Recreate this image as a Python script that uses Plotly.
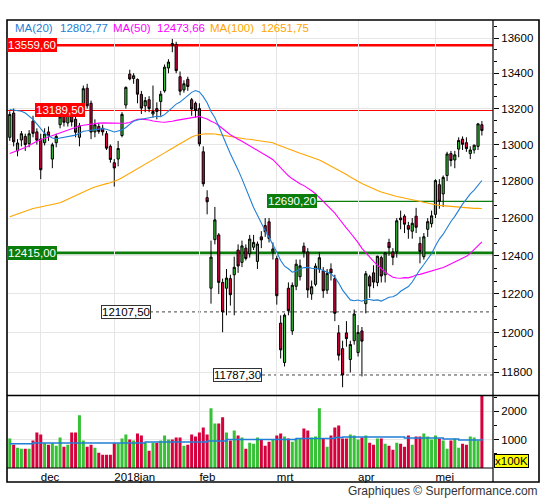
import math
import plotly.graph_objects as go

# ---------------- data ----------------
dates = [
    "2017-11-21", "2017-11-22", "2017-11-23", "2017-11-24", "2017-11-27", "2017-11-28", "2017-11-29", "2017-11-30",
    "2017-12-01", "2017-12-04", "2017-12-05", "2017-12-06", "2017-12-07", "2017-12-08", "2017-12-11", "2017-12-12",
    "2017-12-13", "2017-12-14", "2017-12-15", "2017-12-18", "2017-12-19", "2017-12-20", "2017-12-21", "2017-12-22",
    "2017-12-27", "2017-12-28", "2017-12-29",
    "2018-01-02", "2018-01-03", "2018-01-04", "2018-01-05", "2018-01-08", "2018-01-09", "2018-01-10", "2018-01-11",
    "2018-01-12", "2018-01-15", "2018-01-16", "2018-01-17", "2018-01-18", "2018-01-19", "2018-01-22", "2018-01-23",
    "2018-01-24", "2018-01-25", "2018-01-26", "2018-01-29", "2018-01-30", "2018-01-31",
    "2018-02-01", "2018-02-02", "2018-02-05", "2018-02-06", "2018-02-07", "2018-02-08", "2018-02-09", "2018-02-12",
    "2018-02-13", "2018-02-14", "2018-02-15", "2018-02-16", "2018-02-19", "2018-02-20", "2018-02-21", "2018-02-22",
    "2018-02-23", "2018-02-26", "2018-02-27", "2018-02-28",
    "2018-03-01", "2018-03-02", "2018-03-05", "2018-03-06", "2018-03-07", "2018-03-08", "2018-03-09", "2018-03-12",
    "2018-03-13", "2018-03-14", "2018-03-15", "2018-03-16", "2018-03-19", "2018-03-20", "2018-03-21", "2018-03-22",
    "2018-03-23", "2018-03-26", "2018-03-27", "2018-03-28", "2018-03-29",
    "2018-04-03", "2018-04-04", "2018-04-05", "2018-04-06", "2018-04-09", "2018-04-10", "2018-04-11", "2018-04-12",
    "2018-04-13", "2018-04-16", "2018-04-17", "2018-04-18", "2018-04-19", "2018-04-20", "2018-04-23", "2018-04-24",
    "2018-04-25", "2018-04-26", "2018-04-27", "2018-04-30",
    "2018-05-02", "2018-05-03", "2018-05-04", "2018-05-07", "2018-05-08", "2018-05-09", "2018-05-10", "2018-05-11",
    "2018-05-14", "2018-05-15", "2018-05-16", "2018-05-17", "2018-05-18",
]

opens = [
    13040, 13175, 12965, 13025, 13045, 13005, 13130, 13070, 13030, 13010,
    13070, 12920, 13010, 13110, 13170, 13120, 13160, 13140, 13040, 13220,
    13315, 13230, 13070, 13100, 13090, 13060, 12990, 12900, 12920, 13050,
    13220, 13395, 13370, 13365, 13280, 13215, 13250, 13170, 13200, 13240,
    13300, 13430, 13570, 13565, 13380, 13305, 13365, 13250, 13230, 13200,
    12960, 12710, 12230, 12485, 12510, 12260, 12230, 12280, 12300, 12430,
    12365, 12440, 12410, 12445, 12370, 12500, 12560, 12580, 12420, 12385,
    12050, 11850, 12230, 12010, 12240, 12290, 12450, 12420, 12200, 12250,
    12330, 12320, 12220, 12330, 12280, 12000, 11920, 12000, 11865, 11960,
    11900, 12010, 12150, 12290, 12310, 12260, 12390, 12300, 12470, 12420,
    12420, 12600, 12610, 12560, 12530, 12610, 12465, 12395, 12540, 12570,
    12620, 12780, 12730, 12830, 12950, 12915, 12975, 13030, 13010, 12950,
    12970, 12990, 13110,
]
highs = [
    13185, 13200, 13030, 13075, 13060, 13080, 13160, 13090, 13060, 13090,
    13100, 13010, 13060, 13170, 13190, 13200, 13190, 13160, 13120, 13330,
    13340, 13245, 13140, 13120, 13110, 13075, 13000, 12920, 13020, 13180,
    13325, 13420, 13400, 13370, 13300, 13265, 13270, 13330, 13235, 13300,
    13450, 13480, 13597, 13580, 13410, 13360, 13380, 13260, 13240, 13230,
    12990, 12750, 12480, 12660, 12520, 12280, 12330, 12300, 12395, 12460,
    12480, 12460, 12510, 12510, 12475, 12530, 12600, 12600, 12470, 12400,
    12090, 12100, 12260, 12260, 12380, 12380, 12470, 12440, 12270, 12360,
    12420, 12340, 12330, 12360, 12300, 12040, 11960, 12060, 11960, 12120,
    12040, 12030, 12320, 12300, 12350, 12400, 12400, 12420, 12490, 12440,
    12600, 12640, 12620, 12580, 12600, 12655, 12500, 12520, 12600, 12640,
    12810, 12810, 12830, 12960, 12965, 12965, 13040, 13045, 13040, 12990,
    13000, 13120, 13130,
]
lows = [
    13020, 12990, 12935, 12990, 12965, 12985, 13040, 13000, 12810, 12995,
    13020, 12870, 12985, 13090, 13100, 13100, 13100, 13040, 12990, 13200,
    13200, 13030, 13040, 13060, 13050, 12970, 12900, 12770, 12880, 13040,
    13200, 13360, 13340, 13230, 13170, 13180, 13180, 13150, 13140, 13160,
    13290, 13400, 13520, 13400, 13275, 13290, 13300, 13160, 13150, 12990,
    12770, 12620, 12150, 12460, 12200, 12003, 12090, 12140, 12090, 12310,
    12340, 12375, 12390, 12430, 12330, 12440, 12500, 12470, 12380, 12145,
    11870, 11830, 12090, 11990, 12220, 12270, 12390, 12180, 12170, 12240,
    12310, 12180, 12200, 12270, 12060, 11860, 11726, 11930, 11800, 11940,
    11880, 11780, 12100, 12180, 12230, 12240, 12260, 12260, 12400, 12350,
    12390, 12540, 12520, 12490, 12490, 12520, 12360, 12380, 12500, 12550,
    12600, 12650, 12660, 12800, 12880, 12870, 12930, 12970, 12960, 12920,
    12950, 12970, 13050,
]
closes = [
    13167.54, 13015.05, 13008.55, 13059.84, 13000.17, 13059.54, 13061.87, 13023.98, 12861.49, 13058.55,
    13048.54, 12998.85, 13045.15, 13153.70, 13123.65, 13183.53, 13125.64, 13068.08, 13103.56, 13312.30,
    13215.79, 13069.17, 13109.74, 13072.79, 13070.02, 12979.94, 12917.64, 12871.39, 12978.21, 13167.89,
    13319.64, 13367.78, 13385.59, 13281.43, 13202.90, 13245.03, 13200.76, 13183.96, 13183.96, 13281.34,
    13434.45, 13463.69, 13559.60, 13414.74, 13298.36, 13340.17, 13324.48, 13197.71, 13189.48, 13003.90,
    12785.16, 12687.49, 12392.66, 12590.43, 12260.29, 12107.48, 12282.77, 12196.50, 12339.16, 12346.17,
    12451.96, 12385.60, 12487.90, 12470.49, 12461.91, 12483.79, 12527.04, 12490.73, 12435.85, 12190.94,
    11913.71, 12090.87, 12113.87, 12245.36, 12355.57, 12346.68, 12418.39, 12221.03, 12237.74, 12345.56,
    12389.58, 12217.02, 12307.33, 12309.15, 12100.08, 11886.31, 11787.26, 11970.83, 11940.71, 12096.73,
    12002.40, 11957.90, 12305.36, 12241.27, 12261.75, 12397.32, 12293.97, 12415.01, 12442.40, 12391.41,
    12585.57, 12590.83, 12567.42, 12540.50, 12572.39, 12550.82, 12422.30, 12500.47, 12580.87, 12612.11,
    12802.25, 12690.15, 12819.60, 12948.14, 12912.21, 12943.06, 13022.87, 13001.24, 12977.71, 12970.04,
    12996.42, 13114.61, 13077.72,
]
# volume, in units of 100K shares
volumes = [
    1035, 821, 714, 678, 678, 678, 964, 1250, 1178, 881,
    821, 881, 785, 1071, 750, 821, 1250, 1250, 1856, 964,
    750, 821, 714, 536, 464, 464, 464, 869, 869, 1035,
    1178, 1000, 964, 1214, 1142, 893, 607, 893, 893, 964,
    1142, 1000, 1000, 1071, 1071, 785, 821, 1178, 1107, 1250,
    1428, 1178, 2106, 1571, 1571, 1785, 1250, 964, 1321, 1142,
    1071, 678, 893, 857, 1071, 1000, 785, 928, 1000, 1142,
    1214, 1107, 1035, 928, 1035, 1035, 1392, 1321, 1071, 1107,
    2106, 1035, 750, 1142, 1428, 1499, 1035, 1035, 1178, 1142,
    1000, 1071, 1142, 893, 821, 1035, 1035, 857, 785, 643,
    893, 857, 750, 1142, 821, 1107, 1107, 1214, 1107, 1000,
    1142, 1035, 964, 678, 964, 1035, 714, 857, 821, 1107,
    1071, 964, 2900,
]
vol_ma = [
    850, 850, 850, 850, 850, 850, 880, 880, 880, 880,
    880, 880, 880, 880, 880, 880, 880, 880, 880, 880,
    880, 880, 880, 880, 880, 880, 880, 880, 880, 880,
    880, 880, 880, 880, 880, 916, 916, 916, 916, 916,
    916, 916, 916, 916, 916, 916, 916, 916, 916, 916,
    916, 952, 952, 952, 952, 952, 1000, 1000, 1000, 1000,
    1000, 1000, 1000, 1000, 1000, 1000, 1000, 1000, 1000, 1000,
    1000, 1000, 1000, 1000, 1035, 1035, 1035, 1035, 1035, 1035,
    1035, 1035, 1035, 1035, 1071, 1071, 1095, 1095, 1095, 1095,
    1095, 1095, 1095, 1095, 1095, 1095, 1095, 1095, 1095, 1095,
    1095, 1095, 1059, 1059, 1059, 1059, 1059, 1059, 1059, 1059,
    1059, 1059, 1023, 1023, 1023, 1023, 988, 988, 988, 988,
    988, 988, 1030,
]
ma20 = [
    13195, 13193, 13190, 13185, 13175, 13160, 13140, 13115, 13085, 13062,
    13048, 13036, 13032, 13035, 13040, 13045, 13048, 13052, 13062, 13073.98,
    13076.39, 13079.10, 13084.16, 13084.80, 13088.30, 13084.32, 13077.11, 13069.48, 13075.31, 13080.78,
    13094.33, 13112.78, 13129.80, 13136.19, 13140.15, 13143.23, 13146.98, 13152.78, 13156.80, 13155.25,
    13166.18, 13185.91, 13208.40, 13225.50, 13236.92, 13254.93, 13275.27, 13291.58, 13302.15, 13293.95,
    13267.22, 13233.21, 13183.56, 13149.01, 13101.88, 13045.01, 12999.11, 12949.73, 12907.49, 12860.73,
    12811.61, 12757.71, 12704.12, 12656.91, 12615.09, 12572.27, 12532.39, 12497.05, 12459.36, 12418.72,
    12375.14, 12345.31, 12331.37, 12314.12, 12318.88, 12330.84, 12337.62, 12338.85, 12333.78, 12333.75,
    12330.63, 12322.20, 12313.17, 12305.11, 12287.01, 12257.14, 12220.15, 12194.16, 12169.40, 12164.69,
    12169.12, 12162.48, 12172.05, 12171.85, 12167.15, 12169.69, 12163.47, 12173.16, 12183.40, 12185.69,
    12195.49, 12214.18, 12227.18, 12238.75, 12262.37, 12295.59, 12327.34, 12353.83, 12385.83, 12411.60,
    12451.60, 12488.21, 12513.92, 12549.26, 12581.79, 12609.07, 12645.52, 12674.83, 12701.60, 12730.53,
    12751.07, 12777.26, 12802.77,
]
ma50 = [
    12950, 12958, 12965, 12975, 12983, 12995, 13008, 13018, 13026, 13034,
    13041, 13047, 13055, 13064, 13073, 13081, 13089, 13097, 13103, 13107,
    13111, 13115, 13118, 13119, 13120, 13119, 13118, 13117, 13117, 13118,
    13119, 13122, 13132, 13140, 13141, 13140, 13136, 13131, 13127, 13125,
    13124, 13125, 13129, 13134, 13138, 13142, 13147, 13151, 13155, 13156.22,
    13148.58, 13142.02, 13129.71, 13120.32, 13105.52, 13086.48, 13070.90, 13054.35, 13043.90, 13029.65,
    13017.72, 13005.46, 12994.31, 12980.65, 12967.41, 12953.42, 12941.45, 12929.90, 12916.54, 12894.12,
    12868.08, 12848.51, 12828.59, 12812.04, 12797.75, 12785.09, 12775.10, 12762.10, 12747.29, 12730.84,
    12712.24, 12689.23, 12667.66, 12648.21, 12626.16, 12598.98, 12570.71, 12546.45, 12521.59, 12497.89,
    12469.25, 12439.14, 12414.05, 12390.58, 12369.85, 12350.99, 12330.38, 12314.73, 12299.79, 12287.54,
    12283.55, 12281.61, 12285.11, 12284.11, 12290.35, 12299.22, 12302.01, 12308.09, 12312.92, 12318.24,
    12325.25, 12331.34, 12337.97, 12347.53, 12356.53, 12365.72, 12375.63, 12385.84, 12396.68, 12412.26,
    12433.92, 12454.39, 12473.66,
]
ma100 = [
    12607, 12615, 12622, 12630, 12638, 12645, 12651, 12655, 12659, 12662,
    12666, 12670, 12674, 12682, 12692, 12702, 12713, 12723, 12732, 12741,
    12750, 12759, 12768, 12775, 12780, 12786, 12791, 12797, 12807, 12818,
    12830, 12842, 12853, 12865, 12877, 12890, 12902, 12915, 12928, 12941,
    12954, 12967, 12980, 12993, 13006, 13020, 13033, 13042, 13050, 13055,
    13058, 13060, 13061, 13058, 13055, 13051, 13047, 13043, 13039, 13036,
    13034, 13031, 13029, 13026, 13024, 13021, 13019, 13017, 13010, 13000,
    12992, 12982, 12972, 12966, 12959, 12952, 12945, 12938, 12930, 12922,
    12915, 12904, 12893, 12883, 12872, 12861, 12848, 12835, 12822, 12809,
    12798, 12787, 12777, 12766, 12755, 12748, 12740, 12733, 12726, 12721.88,
    12716.06, 12711.82, 12707.41, 12702.21, 12697.94, 12692.85, 12686.45, 12681.22, 12678.41, 12673.95,
    12671.48, 12668.40, 12666.14, 12664.09, 12661.97, 12659.57, 12658.54, 12657.87, 12656.61, 12653.19,
    12652.00, 12651.90, 12651.75,
]

month_starts = ["2017-12-01", "2018-01-02", "2018-02-01", "2018-03-01", "2018-04-03", "2018-05-02"]
month_labels = ["dec", "2018jan", "feb", "mrt", "apr", "mei"]
price_ticks = [11800, 12000, 12200, 12400, 12600, 12800, 13000, 13200, 13400, 13600]
vol_ticks = [1000, 2000]
vol_minor_ticks = [500, 1500, 2500]

level_values = [13559.60, 13189.50, 12690.20, 12415.00, 12107.50, 11787.30]

# ---------------- style ----------------
FONT = "Liberation Sans, Arial, sans-serif"
GREEN = "#36c136"
RED = "#d6003c"
C_MA20 = "#1f7fd6"
C_MA50 = "#ff00ff"
C_MA100 = "#ffa500"
GRID = "#e6e6e6"

W, H = 545, 500
ML, MR, MT, MB = 7, 52, 20, 32
PW = W - ML - MR
PH = H - MT - MB
SPLIT_PX = 395.5
vol_top = (H - MB - SPLIT_PX) / PH

def px_x(px):
    return (px - ML) / PW

def px_y(py):
    return (H - MB - py) / PH

def fmt(v):
    return f"{v:.2f}".replace(".", ",")

fig = go.Figure()

fig.add_trace(go.Candlestick(
    x=dates, open=opens, high=highs, low=lows, close=closes,
    xaxis="x2", yaxis="y2",
    increasing=dict(line=dict(color="black", width=1), fillcolor=GREEN),
    decreasing=dict(line=dict(color="black", width=1), fillcolor=RED),
    whiskerwidth=0, showlegend=False, hoverinfo="skip",
))
for vals, col in [(ma100, C_MA100), (ma50, C_MA50), (ma20, C_MA20)]:
    fig.add_trace(go.Scatter(x=dates, y=vals, mode="lines", xaxis="x2", yaxis="y2",
                             line=dict(color=col, width=1.1), showlegend=False, hoverinfo="skip"))

vol_colors = [GREEN if c >= o else RED for o, c in zip(opens, closes)]
fig.add_trace(go.Bar(x=dates, y=volumes, marker=dict(color=vol_colors, line=dict(width=0)),
                     xaxis="x", yaxis="y", showlegend=False, hoverinfo="skip"))
fig.add_trace(go.Scatter(x=dates, y=vol_ma, mode="lines", line=dict(color=C_MA20, width=1.5, shape="hv"),
                         xaxis="x", yaxis="y", showlegend=False, hoverinfo="skip"))

n = len(dates)
xr = [-0.72, n - 1 + 2.87]

minor_price = []
for a in price_ticks[:-1]:
    minor_price += [a + 200 / 3, a + 400 / 3]
minor_price += [13600 + 200 / 3]

log_lo, log_hi = math.log10(11684.9), math.log10(13706.6)

fig.update_layout(
    width=W, height=H, autosize=False,
    margin=dict(l=ML, r=MR, t=MT, b=MB, pad=0),
    paper_bgcolor="white", plot_bgcolor="white",
    font=dict(family=FONT, size=11, color="black"),
    bargap=0.22, boxgap=0.2,
    xaxis=dict(domain=[0, 1], anchor="y", type="category", range=xr,
               tickmode="array", tickvals=month_starts, ticktext=month_labels,
               ticks="", ticklabelposition="outside right",
               showgrid=True, gridcolor=GRID, gridwidth=1, showline=False, zeroline=False,
               rangeslider=dict(visible=False), fixedrange=True,
               tickfont=dict(family=FONT, size=11.5, color="black")),
    xaxis2=dict(domain=[0, 1], anchor="y2", type="category", matches="x", range=xr,
                tickmode="array", tickvals=month_starts, showticklabels=False, ticks="",
                showgrid=True, gridcolor=GRID, gridwidth=1, showline=False, zeroline=False,
                rangeslider=dict(visible=False), fixedrange=True),
    yaxis=dict(domain=[0, vol_top], anchor="x", side="right", range=[0, 2553],
               tickmode="array", tickvals=vol_ticks, ticktext=[str(v) for v in vol_ticks],
               ticks="outside", ticklen=5, tickcolor="black", tickwidth=1,
               showgrid=True, gridcolor=GRID, zeroline=False, showline=False,
               minor=dict(tickvals=vol_minor_ticks, ticks="outside", ticklen=3, tickcolor="black", showgrid=False),
               tickfont=dict(family=FONT, size=11.5, color="black"), fixedrange=True),
    yaxis2=dict(domain=[vol_top, 1], anchor="x2", side="right", type="log", range=[log_lo, log_hi],
                tickmode="array", tickvals=price_ticks, ticktext=[str(v) for v in price_ticks],
                ticks="outside", ticklen=5, tickcolor="black", tickwidth=1,
                showgrid=True, gridcolor=GRID, zeroline=False, showline=False,
                minor=dict(tickvals=minor_price, ticks="outside", ticklen=3, tickcolor="black", showgrid=False),
                tickfont=dict(family=FONT, size=11.5, color="black"), fixedrange=True),
)

shapes = []
# reference levels
lv_style = [
    dict(x0=0, color="#ff0000", width=2.5, dash="solid"),
    dict(x0=0, color="#ff0000", width=1, dash="solid"),
    dict(x0=px_x(317), color="#0a7d0a", width=1.2, dash="solid"),
    dict(x0=0, color="#0a7d0a", width=2.8, dash="solid"),
    dict(x0=px_x(150), color="#444444", width=1, dash="3px,3px"),
    dict(x0=px_x(262), color="#444444", width=1, dash="3px,3px"),
]
for v, st in zip(level_values, lv_style):
    shapes.append(dict(type="line", xref="paper", yref="y2", x0=st["x0"], x1=1, y0=v, y1=v,
                       line=dict(color=st["color"], width=st["width"], dash=st["dash"]), layer="below"))
# frame
frame_right = px_x(539)
frame_bottom = px_y(482)
shapes += [
    dict(type="rect", xref="paper", yref="paper", x0=0, x1=frame_right, y0=frame_bottom, y1=1,
         line=dict(color="black", width=1.6), layer="above"),
    dict(type="line", xref="paper", yref="paper", x0=0, x1=frame_right, y0=vol_top, y1=vol_top,
         line=dict(color="black", width=1.6), layer="above"),
    dict(type="line", xref="paper", yref="paper", x0=1, x1=1, y0=frame_bottom, y1=1,
         line=dict(color="black", width=1.2), layer="above"),
    dict(type="line", xref="paper", yref="paper", x0=0, x1=1, y0=0, y1=0,
         line=dict(color="black", width=1.2), layer="above"),
]
fig.update_layout(shapes=shapes)

ann = []
lab_style = [
    dict(x=0, bg="#ff0000", fc="white", bc="#ff0000"),
    dict(x=px_x(35), bg="#ff0000", fc="white", bc="#ff0000"),
    dict(x=px_x(267), bg="#0a7d0a", fc="white", bc="#0a7d0a"),
    dict(x=0, bg="#0a7d0a", fc="white", bc="#0a7d0a"),
    dict(x=px_x(101), bg="white", fc="black", bc="#333333"),
    dict(x=px_x(213), bg="white", fc="black", bc="#333333"),
]
for v, st in zip(level_values, lab_style):
    ann.append(dict(xref="paper", yref="y2", x=st["x"], y=math.log10(v), xanchor="left", yanchor="middle",
                    text=fmt(v), showarrow=False, bgcolor=st["bg"], bordercolor=st["bc"], borderwidth=1,
                    borderpad=0, font=dict(family=FONT, size=11.5, color=st["fc"])))

legend_items = [
    ("MA(20)", ma20[-1], C_MA20, 13.4, 58),
    ("MA(50)", ma50[-1], C_MA50, 111, 155),
    ("MA(100)", ma100[-1], C_MA100, 207.7, 258.8),
]
for name, val, col, xn, xv in legend_items:
    ann.append(dict(xref="paper", yref="paper", x=px_x(xn), y=px_y(28), xanchor="left", yanchor="middle",
                    text=name, showarrow=False, font=dict(family=FONT, size=11.5, color=col)))
    ann.append(dict(xref="paper", yref="paper", x=px_x(xv), y=px_y(28), xanchor="left", yanchor="middle",
                    text=fmt(val), showarrow=False, font=dict(family=FONT, size=11.5, color=col)))

ann.append(dict(xref="paper", yref="paper", x=px_x(494), y=px_y(461), xanchor="left", yanchor="middle",
                text="x100K", showarrow=False, bgcolor="#ffff00", bordercolor="black", borderwidth=1,
                borderpad=0, font=dict(family=FONT, size=11.5, color="black")))
ann.append(dict(xref="paper", yref="paper", x=px_x(540), y=px_y(491), xanchor="right", yanchor="middle",
                text="Graphiques © Surperformance.com", showarrow=False,
                font=dict(family=FONT, size=12, color="#333333")))
fig.update_layout(annotations=ann)

fig.write_html("out.html", config={"displayModeBar": False, "staticPlot": True},
               post_script="document.body.style.margin='0px';document.body.style.overflow='hidden';")
